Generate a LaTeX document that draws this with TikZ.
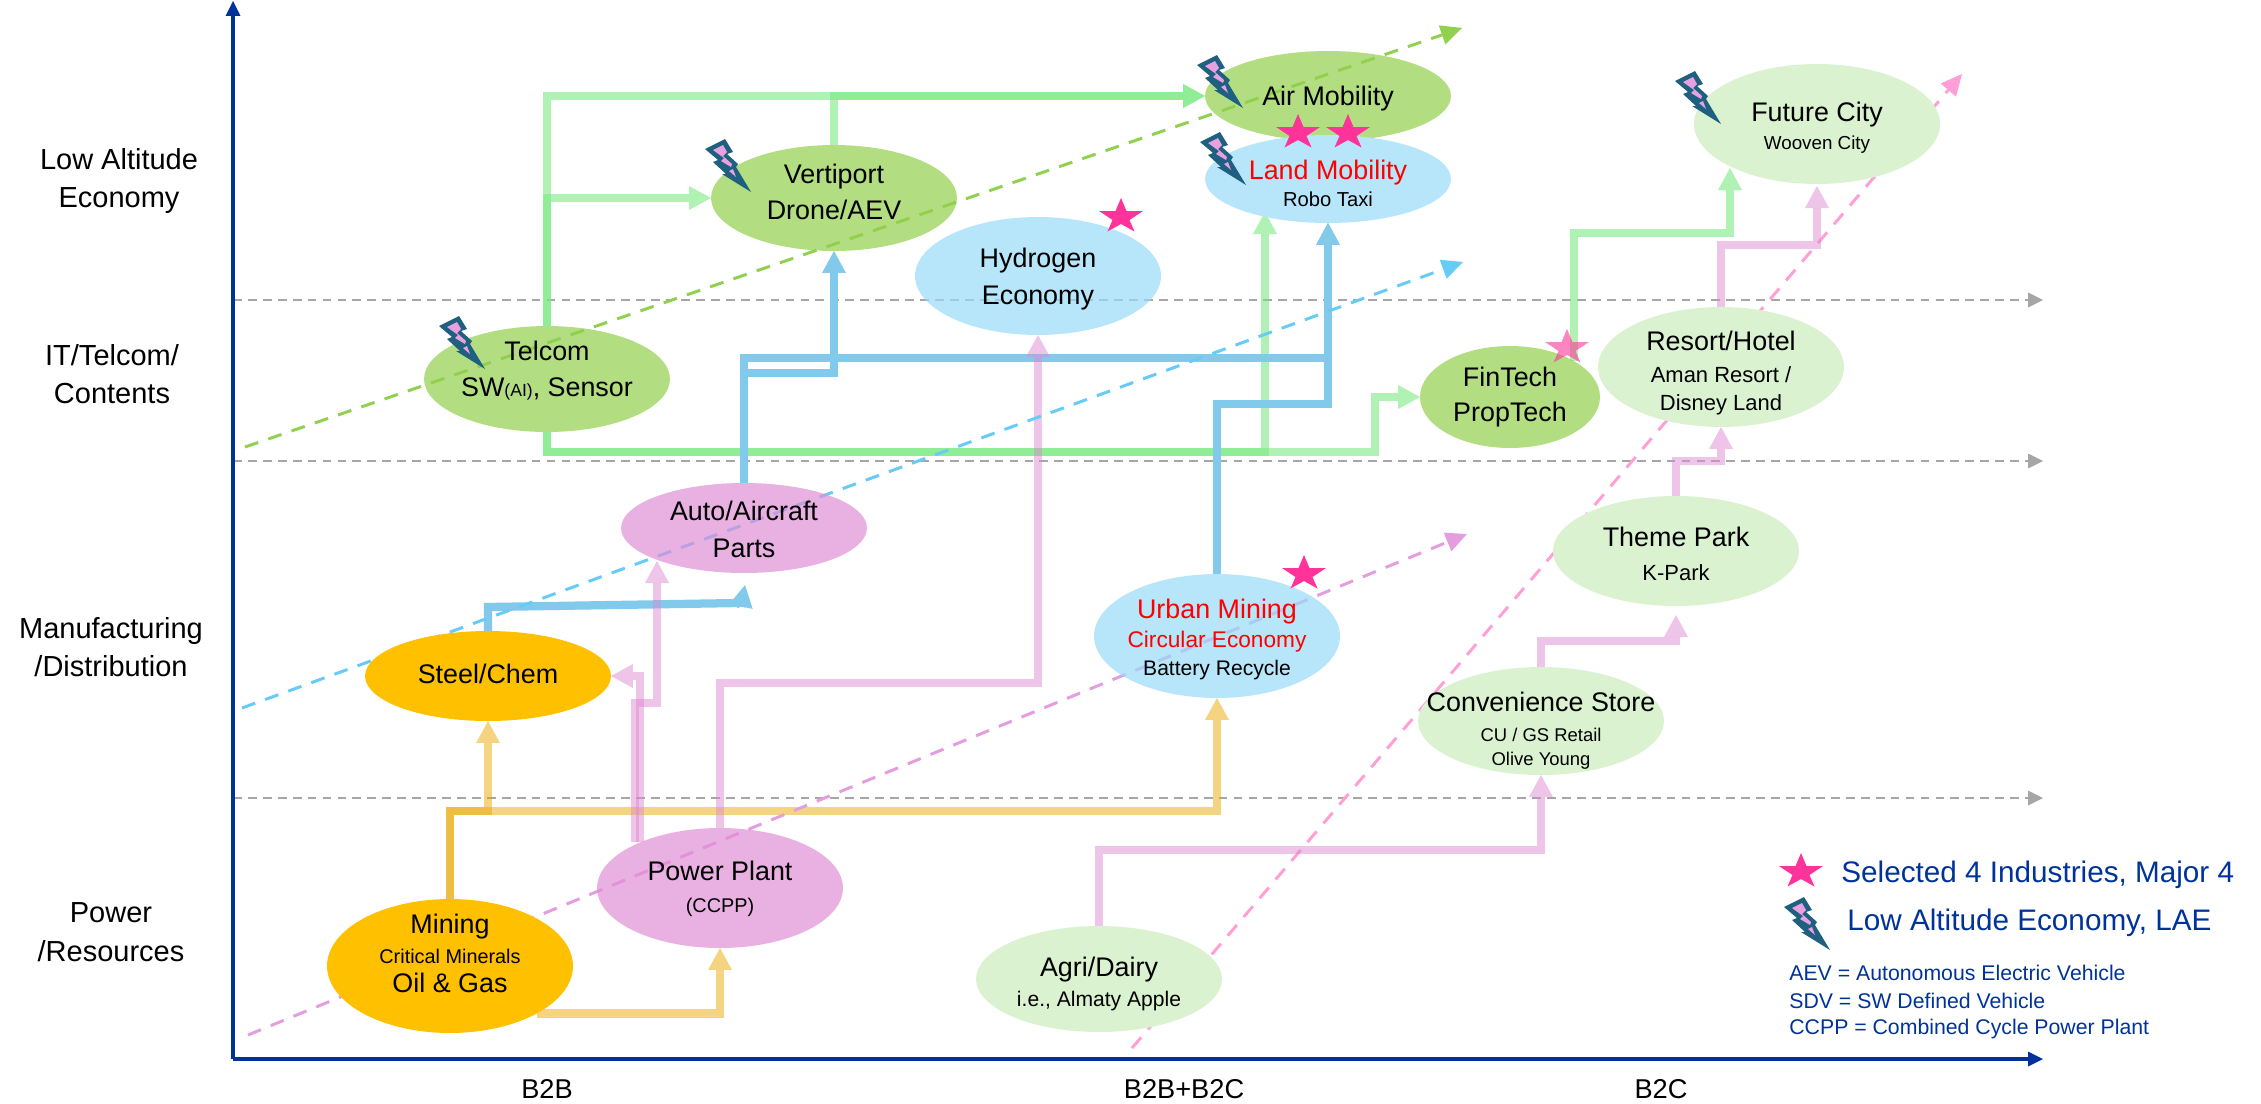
\documentclass[tikz,border=0pt]{standalone}
\usepackage{fontspec}
\setmainfont{Liberation Sans}
\usetikzlibrary{arrows.meta,shapes.geometric}
\pgfdeclarelayer{backlayer}
\pgfsetlayers{backlayer,main}
\definecolor{axisblue}{HTML}{003399}
\definecolor{orangefill}{HTML}{FFC000}
\definecolor{purplefill}{HTML}{E08ED6}
\definecolor{skyfill}{HTML}{98DBF8}
\definecolor{skysolid}{HTML}{B7E6FA}
\definecolor{leaffill}{HTML}{91D04C}
\definecolor{palefill}{HTML}{DAF2D0}
\definecolor{greenflow}{HTML}{77E97E}
\definecolor{blueflow}{HTML}{82CAEB}
\definecolor{yellowflow}{HTML}{E9A901}
\definecolor{purpleflow}{HTML}{DD89D1}
\definecolor{greentrend}{HTML}{92D050}
\definecolor{bluetrend}{HTML}{66CCF5}
\definecolor{purpletrend}{HTML}{E49EDF}
\definecolor{pinktrend}{HTML}{FF9FD6}
\definecolor{starpink}{HTML}{FF3399}
\definecolor{boltteal}{HTML}{1F6080}
\definecolor{boltpink}{HTML}{E8A0E0}
\newcommand{\subtxt}[2]{{\fontsize{#1}{#1}\selectfont #2}}
\newcommand{\lines}[2]{\makebox[0pt][c]{\smash{\raisebox{\dimexpr#1-3.8pt\relax}{\begin{tabular}[c]{@{}c@{}}#2\end{tabular}}}}}
\tikzset{
    bubble/.style={shape=ellipse,minimum width=4.92cm,inner sep=0pt,outer sep=0pt,draw=none,
        font=\fontsize{15.3}{18}\selectfont},
    halfh/.style={minimum height=#1*.04cm},
    seethrough/.style={fill opacity=.7,text opacity=1},
    orangebubble/.style={bubble,fill=orangefill},
    purplebubble/.style={bubble,fill=purplefill,seethrough},
    skybubble/.style={bubble,fill=skyfill,seethrough},
    leafbubble/.style={bubble,fill=leaffill,seethrough},
    palebubble/.style={bubble,fill=palefill},
    flow/.style={line width=4.7pt,-{Triangle[length=22*.02cm,width=24*.02cm,line width=0pt]}},
    greenline/.style={flow,draw=greenflow,draw opacity=.58,fill opacity=.58},
    blueline/.style={flow,draw=blueflow},
    yellowline/.style={flow,draw=yellowflow,draw opacity=.5,fill opacity=.5},
    purpleline/.style={flow,draw=purpleflow,draw opacity=.5,fill opacity=.5},
    trendline/.style={line width=1.7pt,dash pattern=on 8pt off 6pt,-{Triangle[length=12pt,width=11.5pt,line width=0pt]},draw=#1},
    gridline/.style={line width=1.1pt,draw=black!35,dash pattern=on 5pt off 3.5pt,-{Triangle[length=8.5pt,width=8.5pt,line width=0pt]}},
    axisline/.style={line width=2pt,draw=axisblue,-{Triangle[length=8.5pt,width=8.5pt,line width=0pt]}},
    rowlabel/.style={align=center,font=\fontsize{16.5}{22}\selectfont},
    columnlabel/.style={font=\fontsize{15.5}{18}\selectfont},
    legendbig/.style={anchor=west,inner sep=0pt,text=axisblue,font=\fontsize{16.9}{20}\selectfont},
    legendsmall/.style={anchor=west,inner sep=0pt,text=axisblue,font=\fontsize{12.1}{15}\selectfont},
    starmark/.pic={
        \fill[starpink] (0,-17) -- (5.5,-4) -- (22,-4) -- (8.5,5) -- (13.5,16.5) -- (0,9)
            -- (-13.5,16.5) -- (-8.5,5) -- (-22,-4) -- (-5.5,-4) -- cycle;
    },
    boltmark/.pic={
        \fill[boltteal] (29,7) -- (9,17) -- (22,28) -- (17,30) -- (30,42) -- (26,42) -- (55,60)
            -- (40,35) -- (42,32) -- (31,22) -- (37,20) -- cycle;
        \fill[boltpink] (27,13) -- (17,18) -- (28,26) -- (25,29) -- (35,35) -- (36,32) -- (27,24) -- (31,20) -- cycle;
        \fill[boltpink] (33,39) -- (40,45) -- (37,37) -- cycle;
    }
}
\begin{document}
\begin{tikzpicture}[x=.02cm,y=-.02cm]
        \useasboundingbox (0,0) rectangle (2261,1103);

        \coordinate (origin) at (233,1059);
        \coordinate (ytop) at (233,1);
        \coordinate (xend) at (2043,1059);
        \coordinate (grid1a) at (233,300);
        \coordinate (grid1b) at (2043,300);
        \coordinate (grid2a) at (233,461);
        \coordinate (grid2b) at (2043,461);
        \coordinate (grid3a) at (233,798);
        \coordinate (grid3b) at (2043,798);
        \coordinate (greena) at (245,447);
        \coordinate (greenb) at (1462,28);
        \coordinate (bluea) at (242,708);
        \coordinate (blueb) at (1463,262);
        \coordinate (purplea) at (248,1035);
        \coordinate (purpleb) at (1467,534);
        \coordinate (pinka) at (1132,1048);
        \coordinate (pinkb) at (1962,74);
        \coordinate (steeltip) at (745,585);

        \node[leafbubble,halfh=53] (telcom) at (547,379) {\lines{4pt}{Telcom\\[2.4pt]SW\subtxt{10}{(AI)}, Sensor}};
        \node[leafbubble,halfh=53] (vertiport) at (834,198) {\lines{2pt}{Vertiport\\[2.4pt]Drone/AEV}};
        \node[leafbubble,halfh=45] (air) at (1328,96) {\lines{-1.6pt}{Air Mobility}};
        \node[purplebubble,halfh=45] (auto) at (744,528) {\lines{-2.4pt}{Auto/Aircraft\\[3pt]Parts}};
        \node[purplebubble,halfh=60] (power) at (720,888) {\lines{-1.2pt}{Power Plant\\[0pt]\subtxt{11.3}{(CCPP)}}};
        \node[bubble,fill=skysolid,halfh=44] (land) at (1328,179) {\lines{-4pt}{\textcolor{red}{Land Mobility}\\[-2.5pt]\subtxt{11.5}{Robo Taxi}}};
        \node[skybubble,halfh=59] (hydrogen) at (1038,276) {\lines{-2pt}{Hydrogen\\[3pt]Economy}};
        \node[leafbubble,halfh=51,minimum width=3.6cm] (fintech) at (1510,397) {\lines{0pt}{FinTech\\[2pt]PropTech}};
        \node[palebubble,halfh=60] (resort) at (1721,367) {\lines{-4pt}{Resort/Hotel\\[0pt]\subtxt{12.5}{Aman Resort /}\\[-2pt]\subtxt{12.5}{Disney Land}}};
        \node[palebubble,halfh=60] (future) at (1817,124) {\lines{-2.8pt}{Future City\\[-2pt]\subtxt{10.7}{Wooven City}}};
        \node[orangebubble,halfh=45] (steel) at (488,676) {\lines{-.6pt}{Steel/Chem}};
        \node[orangebubble,halfh=67] (mining) at (450,966) {\lines{5.5pt}{Mining\\[-.5pt]\subtxt{11.3}{Critical Minerals}\\[-1.5pt]Oil \& Gas}};
        \node[skybubble,halfh=62] (urban) at (1217,636) {\lines{-2.5pt}{\textcolor{red}{Urban Mining}\\[-1.7pt]\textcolor{red}{\subtxt{12.9}{Circular Economy}}\\[-2pt]\subtxt{12}{Battery Recycle}}};
        \node[palebubble,halfh=55] (theme) at (1676,551) {\lines{-3.3pt}{Theme Park\\[1pt]\subtxt{12.5}{K-Park}}};
        \node[palebubble,halfh=54] (store) at (1541,721) {\lines{-6pt}{Convenience Store\\[-1pt]\subtxt{10.5}{CU / GS Retail}\\[-4.4pt]\subtxt{10.5}{Olive Young}}};
        \node[palebubble,halfh=53] (agri) at (1099,979) {\lines{-3.5pt}{Agri/Dairy\\[-1pt]\subtxt{12}{i.e., Almaty Apple}}};

        \begin{pgfonlayer}{backlayer}
        \draw[gridline] (grid1a) -- (grid1b);
        \draw[gridline] (grid2a) -- (grid2b);
        \draw[gridline] (grid3a) -- (grid3b);
        \draw[trendline=pinktrend] (pinka) -- (pinkb);

        \draw[greenline] (telcom.north) |- (air.west);
        \draw[greenline] (telcom.north) |- (vertiport.west);
        \draw[greenline] (vertiport.north) |- (air.west);
        \draw[greenline] (telcom.south) |- (1265,452) -- (1265,212);
        \draw[greenline] (telcom.south) |- (1375,452) |- (fintech.west);
        \draw[greenline] (1574,361) |- (1730,233) -- (1730,168);
        \draw[yellowline] (450,904) |- (488,811) -- (steel.south);
        \draw[yellowline] (450,904) |- (1217,811) -- (urban.south);
        \draw[yellowline] (mining.south east) -| (power.south);
        \draw[blueline] (auto.north) |- (1328,358) -- (land.south);
        \draw[blueline] (auto.north) |- (834,373) -- (vertiport.south);
        \draw[blueline] (urban.north) |- (1328,404) -- (land.south);
        \draw[blueline] (steel.north) -- (488,607) -- (739,603) -- (741,606) -- (steeltip);
        \draw[purpleline] (power.north) |- (1038,683) -- (hydrogen.south);
        \draw[purpleline] (635,842) |- (657,703) -- (657,561);
        \draw[purpleline] (640,842) |- (steel.east);
        \draw[purpleline] (agri.north) |- (1541,850) -- (store.south);
        \draw[purpleline] (store.north) |- (1676,641) -- (1676,615);
        \draw[purpleline] (theme.north) |- (1721,461) -- (resort.south);
        \draw[purpleline] (resort.north) |- (1817,245) -- (1817,186);

        \draw[trendline=greentrend] (greena) -- (greenb);
        \draw[trendline=bluetrend] (bluea) -- (blueb);
        \draw[trendline=purpletrend] (purplea) -- (purpleb);
        \end{pgfonlayer}

        \draw[axisline] (origin) -- (ytop);
        \draw[axisline] (origin) -- (xend);

        \node[rowlabel] (rowlae) at (119,181) {Low Altitude\\Economy};
        \node[rowlabel] (rowit) at (112,374) {IT/Telcom/\\Contents};
        \node[rowlabel] (rowmfg) at (111,647) {Manufacturing\\/Distribution};
        \node[rowlabel] (rowpower) at (111,932) {Power\\/Resources};
        \node[columnlabel] (colbb) at (547,1089) {B2B};
        \node[columnlabel] (colboth) at (1184,1089) {B2B+B2C};
        \node[columnlabel] (colbc) at (1661,1089) {B2C};

        \pic at (1298,131) {starmark};
        \pic at (1348,131) {starmark};
        \pic at (1121,215) {starmark};
        \pic at (1304,572) {starmark};
        \pic[opacity=.6] at (1567,346) {starmark};
        \pic at (1801,870) {starmark};

        \pic at (1188,48) {boltmark};
        \pic at (696,132) {boltmark};
        \pic at (1191,125) {boltmark};
        \pic at (430,309) {boltmark};
        \pic at (1666,64) {boltmark};
        \pic at (1775,890) {boltmark};

        \node[legendbig] (legstar) at (1841,875) {Selected 4 Industries, Major 4};
        \node[legendbig] (legbolt) at (1847,923) {Low Altitude Economy, LAE};
        \node[legendsmall] (legaev) at (1789,973) {AEV = Autonomous Electric Vehicle};
        \node[legendsmall] (legsdv) at (1789,1001) {SDV = SW Defined Vehicle};
        \node[legendsmall] (legccpp) at (1789,1029) {CCPP = Combined Cycle Power Plant};
    \end{tikzpicture}
\end{document}
